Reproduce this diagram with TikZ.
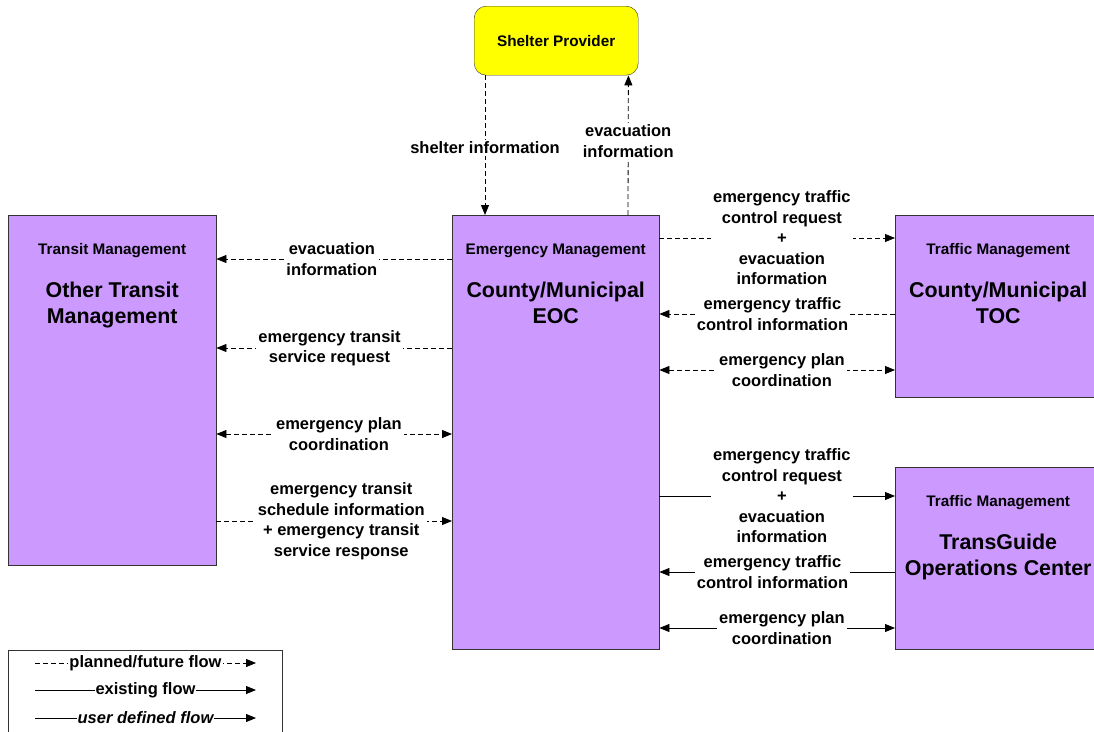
\documentclass[tikz,border=0pt]{standalone}
\usepackage{fontspec}
\setmainfont{Liberation Sans}
\usetikzlibrary{arrows.meta,positioning}
\definecolor{sysfill}{HTML}{CC99FF}
\definecolor{shelterfill}{HTML}{FFFF00}

\begin{document}
\begin{tikzpicture}[x=1pt,y=-1pt,font=\bfseries\fontsize{16.5}{20.5}\selectfont,>={Triangle[length=10pt,width=8pt]},
  box/.style={draw=black!80,fill=sysfill,anchor=north west,inner sep=0pt},
  hdr/.style={font=\bfseries\fontsize{15.3}{18}\selectfont,anchor=base},
  ttl/.style={font=\bfseries\fontsize{21.4}{26}\selectfont,align=center,anchor=base},
  lbl/.style={fill=white,align=center,inner sep=2pt},
  plan/.style={thick,dash pattern=on 5pt off 3pt},
  exist/.style={thick}]
\useasboundingbox (0,0) rectangle (1094,731);

\node[draw=black!80,fill=shelterfill,rounded corners=12pt,anchor=north west,minimum width=164pt,minimum height=69pt,font=\bfseries\fontsize{15.3}{18}\selectfont] (shelter) at (474,6) {Shelter Provider};

\node[box,minimum width=208pt,minimum height=350pt] (transit) at (8,215) {};
\node[hdr] at ([yshift=-39.5pt]transit.north) {Transit Management};
\node[ttl] at ([yshift=-108.5pt]transit.north) {Other Transit\\Management};

\node[box,minimum width=207pt,minimum height=434pt] (eoc) at (452,215) {};
\node[hdr] at ([yshift=-39.5pt]eoc.north) {Emergency Management};
\node[ttl] at ([yshift=-108.5pt]eoc.north) {County/Municipal\\EOC};

\node[box,minimum width=206pt,minimum height=182pt] (toc) at (895,215) {};
\node[hdr] at ([yshift=-39.5pt]toc.north) {Traffic Management};
\node[ttl] at ([yshift=-108.5pt]toc.north) {County/Municipal\\TOC};

\node[box,minimum width=206pt,minimum height=182pt] (transguide) at (895,467) {};
\node[hdr] at ([yshift=-39.5pt]transguide.north) {Traffic Management};
\node[ttl] at ([yshift=-108.5pt]transguide.north) {TransGuide\\Operations Center};

\draw[plan,->] ([xshift=11pt]shelter.south west) -- node[lbl,pos=0.52]{shelter information} ([xshift=33pt]eoc.north west);
\draw[plan,->] ([xshift=176pt]eoc.north west) -- node[lbl,pos=0.53]{evacuation\\information} ([xshift=-10pt]shelter.south east);

\draw[plan,->] ([yshift=-44pt]eoc.north west) -- node[lbl,pos=0.51]{evacuation\\information} ([yshift=-44pt]transit.north east);
\draw[plan,->] ([yshift=-133pt]eoc.north west) -- node[lbl,pos=0.52]{emergency transit\\service request} ([yshift=-133pt]transit.north east);
\draw[plan,<->] ([yshift=-219pt]transit.north east) -- node[lbl,pos=0.52]{emergency plan\\coordination} ([yshift=-219pt]eoc.north west);
\draw[plan,->] ([yshift=-306pt]transit.north east) -- node[lbl,pos=0.53]{emergency transit\\schedule information\\+ emergency transit\\service response} ([yshift=-306pt]eoc.north west);

\draw[plan,->] ([yshift=-23pt]eoc.north east) -- node[lbl,pos=0.52]{emergency traffic\\control request\\+\\evacuation\\information} ([yshift=-23pt]toc.north west);
\draw[plan,->] ([yshift=-99pt]toc.north west) -- node[lbl,pos=0.52]{emergency traffic\\control information} ([yshift=-99pt]eoc.north east);
\draw[plan,<->] ([yshift=-155pt]eoc.north east) -- node[lbl,pos=0.52]{emergency plan\\coordination} ([yshift=-155pt]toc.north west);

\draw[exist,->] ([yshift=-281pt]eoc.north east) -- node[lbl,pos=0.52]{emergency traffic\\control request\\+\\evacuation\\information} ([yshift=-29pt]transguide.north west);
\draw[exist,->] ([yshift=-105pt]transguide.north west) -- node[lbl,pos=0.52]{emergency traffic\\control information} ([yshift=-357pt]eoc.north east);
\draw[exist,<->] ([yshift=-413pt]eoc.north east) -- node[lbl,pos=0.52]{emergency plan\\coordination} ([yshift=-161pt]transguide.north west);

\node[draw=black!80,anchor=north west,minimum width=274pt,minimum height=100pt] (legend) at (8,650) {};
\coordinate (plana) at ([xshift=27pt,yshift=-13pt]legend.north west);
\coordinate (planb) at ([xshift=248pt,yshift=-13pt]legend.north west);
\coordinate (exista) at ([xshift=27pt,yshift=-40pt]legend.north west);
\coordinate (existb) at ([xshift=248pt,yshift=-40pt]legend.north west);
\coordinate (usera) at ([xshift=27pt,yshift=-68pt]legend.north west);
\coordinate (userb) at ([xshift=248pt,yshift=-68pt]legend.north west);
\draw[plan,->] (plana) -- node[lbl,inner sep=1pt]{planned/future flow} (planb);
\draw[exist,->] (exista) -- node[lbl,inner sep=1pt]{existing flow} (existb);
\draw[exist,->] (usera) -- node[lbl,inner sep=1pt,font=\bfseries\itshape\fontsize{16.5}{20.5}\selectfont]{user defined flow} (userb);
\end{tikzpicture}
\end{document}
